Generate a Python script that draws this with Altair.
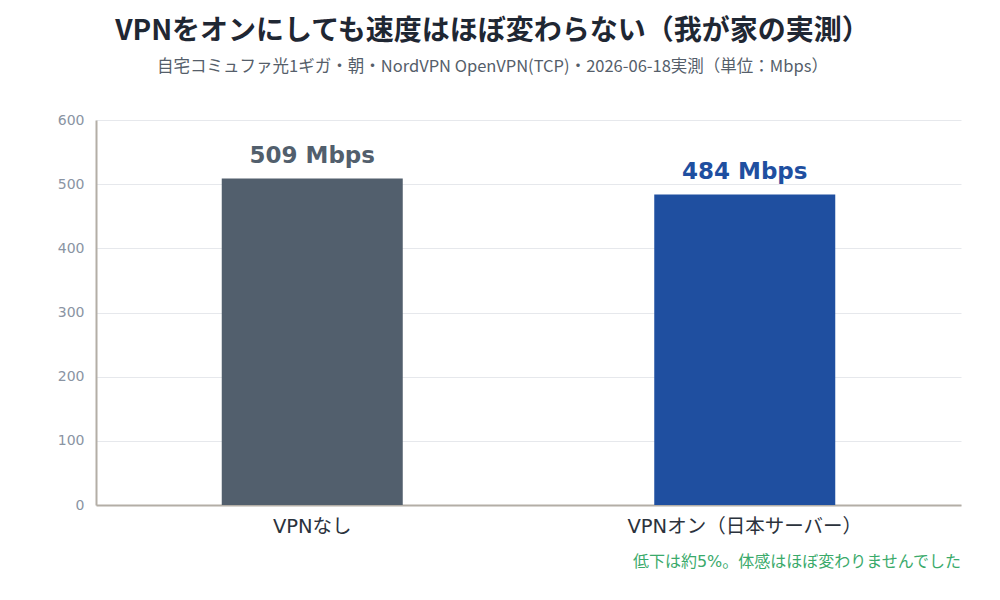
import altair as alt
import pandas as pd

categories = ["VPNなし", "VPNオン（日本サーバー）"]
speeds = [509, 484]
value_labels = ["509 Mbps", "484 Mbps"]
bar_colors = ["#525f6d", "#1f4fa0"]
y_ticks = [0, 100, 200, 300, 400, 500, 600]
note = "低下は約5%。体感はほぼ変わりませんでした"

W, H = 865, 385

df = pd.DataFrame({"cat": categories, "speed": speeds, "label": value_labels, "color": bar_colors})

x = alt.X("cat:N", sort=None, title=None,
          scale=alt.Scale(paddingInner=0, paddingOuter=0),
          axis=alt.Axis(labelAngle=0, ticks=False, labelPadding=12, labelFontSize=19.5,
                        labelLimit=400,
                        labelColor="#2b323c", labelFont="DejaVu Sans, Noto Sans CJK JP",
                        domain=True, domainColor="#b3aea6", domainWidth=2, grid=False))
y = alt.Y("speed:Q", title=None, scale=alt.Scale(domain=[0, 600], nice=False),
          axis=alt.Axis(values=y_ticks, ticks=False, labelPadding=12, labelFontSize=14,
                        labelColor="#8a94a3", labelFont="DejaVu Sans",
                        domain=True, domainColor="#b3aea6", domainWidth=2,
                        grid=True, gridColor="#e6e8ec", gridWidth=1))

base = alt.Chart(df)
bars = base.mark_bar(size=181).encode(x=x, y=y, color=alt.Color("color:N", scale=None))
texts = base.mark_text(fontSize=23, fontWeight="bold", font="DejaVu Sans", dy=-15,
                       baseline="alphabetic").encode(
    x=alt.X("cat:N", sort=None), y="speed:Q", text="label:N",
    color=alt.Color("color:N", scale=None))

note_df = pd.DataFrame({"t": [note]})
note_layer = alt.Chart(note_df).mark_text(align="right", baseline="alphabetic", fontSize=16,
                                          color="#3aaa6b", font="DejaVu Sans, Noto Sans CJK JP").encode(
    text="t:N", x=alt.value(W), y=alt.value(H + 62))

chart = alt.layer(bars, texts, note_layer).properties(
    width=W, height=H,
    autosize="none",
    padding={"left": 88, "top": 112, "right": 23, "bottom": 80},
    title=alt.TitleParams(
        text="VPNをオンにしても速度はほぼ変わらない（我が家の実測）",
        subtitle="自宅コミュファ光1ギガ・朝・NordVPN OpenVPN(TCP)・2026-06-18実測（単位：Mbps）",
        font="Noto Sans CJK JP", fontSize=28, fontWeight="bold", color="#1f2733",
        subtitleFont="Noto Sans CJK JP", subtitleFontSize=16.5, subtitleColor="#555e6a",
        subtitlePadding=13, anchor="middle", dx=-36, offset=38),
).configure_view(stroke=None)

chart.save("out.html", embed_options={"renderer": "svg", "actions": False})
